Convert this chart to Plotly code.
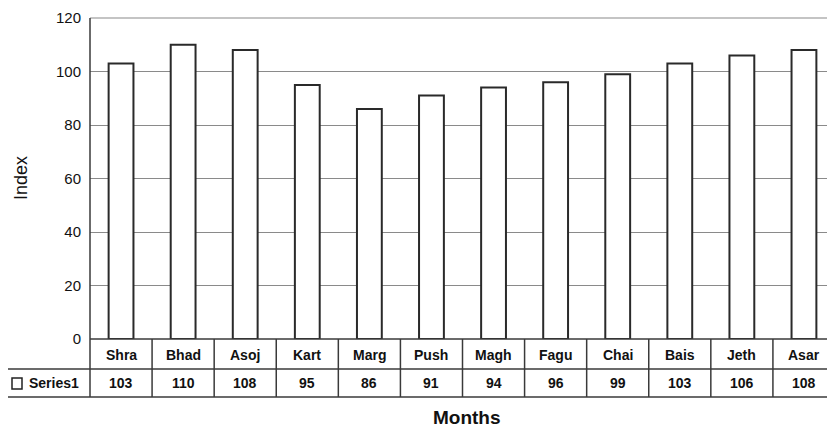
import plotly.graph_objects as go

months = ["Shra", "Bhad", "Asoj", "Kart", "Marg", "Push", "Magh", "Fagu", "Chai", "Bais", "Jeth", "Asar"]
values = [103, 110, 108, 95, 86, 91, 94, 96, 99, 103, 106, 108]
series_name = "Series1"
y_ticks = [0, 20, 40, 60, 80, 100, 120]

FONT = "Liberation Sans, Arial, sans-serif"
OFF = 8  # browser body margin
W, H = 835 - OFF, 427 - OFF
L, R, T, B = 90 - OFF, 0, 18 - OFF, 88
plot_h = H - T - B
plot_w = W - L - R
ZERO_Y = 339  # target pixel y of value 0
LEFT_X = 90   # target pixel x of plot left edge

def py(pix):  # target pixel y -> paper y
    return (ZERO_Y - pix) / plot_h

def px(pix):  # target pixel x -> paper x
    return (pix - LEFT_X) / plot_w

fig = go.Figure()
fig.add_trace(go.Bar(
    x=months, y=values, name=series_name,
    marker=dict(color="white", line=dict(color="#2a2a2a", width=2)),
    width=0.4, showlegend=False,
))

shapes = []
line_col = "#3a3a3a"
row1_bot = py(369)
row2_bot = py(397)
shapes.append(dict(type="line", xref="paper", yref="paper", x0=0, x1=1, y0=1, y1=1,
                   line=dict(color="#8a8a8a", width=1.2)))
shapes.append(dict(type="line", xref="paper", yref="paper", x0=0, x1=1, y0=0, y1=0,
                   line=dict(color=line_col, width=1.5)))
shapes.append(dict(type="line", xref="paper", yref="paper", x0=px(5), x1=1, y0=row1_bot, y1=row1_bot,
                   line=dict(color=line_col, width=1.5)))
shapes.append(dict(type="line", xref="paper", yref="paper", x0=px(5), x1=1, y0=row2_bot, y1=row2_bot,
                   line=dict(color=line_col, width=1.5)))
shapes.append(dict(type="line", xref="paper", yref="paper", x0=px(7), x1=px(7), y0=row1_bot, y1=row2_bot,
                   line=dict(color=line_col, width=1.5)))
shapes.append(dict(type="line", xref="paper", yref="paper", x0=0, x1=0, y0=1, y1=row2_bot,
                   line=dict(color=line_col, width=1.5)))
for i in range(len(months)):
    shapes.append(dict(type="line", xref="x", yref="paper", x0=i + 0.5, x1=i + 0.5, y0=0, y1=row2_bot,
                       line=dict(color=line_col, width=1.5)))
shapes.append(dict(type="rect", xref="paper", yref="paper",
                   x0=px(12), x1=px(22), y0=py(389), y1=py(378),
                   line=dict(color="#222", width=1.5), fillcolor="white"))

cell_font = dict(family=FONT, size=14, color="#111", weight="bold")
annotations = []
for m, v in zip(months, values):
    annotations.append(dict(x=m, y=py(355), xref="x", yref="paper", text=m, showarrow=False,
                            xanchor="center", yanchor="middle", font=cell_font))
    annotations.append(dict(x=m, y=py(383), xref="x", yref="paper", text=str(v), showarrow=False,
                            xanchor="center", yanchor="middle", font=cell_font))
annotations.append(dict(x=px(27), y=py(383), xref="paper", yref="paper", text=series_name,
                        showarrow=False, xanchor="left", yanchor="middle", font=cell_font))
annotations.append(dict(x=px(467), y=py(417), xref="paper", yref="paper", text="Months",
                        showarrow=False, xanchor="center", yanchor="middle",
                        font=dict(family=FONT, size=19, color="#111", weight="bold")))
annotations.append(dict(x=px(21), y=py(178), xref="paper", yref="paper", text="Index",
                        showarrow=False, textangle=-90, xanchor="center", yanchor="middle",
                        font=dict(family=FONT, size=18, color="#111")))

fig.update_layout(
    width=W, height=H,
    margin=dict(l=L, r=R, t=T, b=B),
    paper_bgcolor="white", plot_bgcolor="white",
    shapes=shapes, annotations=annotations,
    xaxis=dict(showticklabels=False, showgrid=False, zeroline=False, showline=False, ticks="",
               range=[-0.5, len(months) - 0.5]),
    yaxis=dict(range=[0, 120], tickvals=y_ticks, showgrid=True, gridcolor="#8a8a8a", gridwidth=1.2,
               zeroline=False, showline=False, ticks="", automargin=False,
               ticklabeloverflow="allow",
               tickfont=dict(family=FONT, size=15, color="#111"), ticklabelstandoff=8),
    font=dict(family=FONT),
)

fig.write_html("out.html")
